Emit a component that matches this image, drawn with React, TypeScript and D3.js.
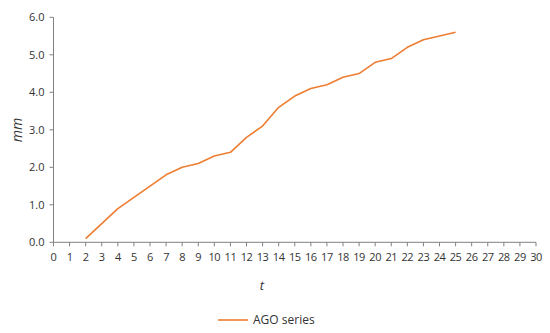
import React from "react";
import * as d3 from "d3";

const tValues = [2, 3, 4, 5, 6, 7, 8, 9, 10, 11, 12, 13, 14, 15, 16, 17, 18, 19, 20, 21, 22, 23, 24, 25];
const agoValues = [0.1, 0.5, 0.9, 1.2, 1.5, 1.8, 2.0, 2.1, 2.3, 2.4, 2.8, 3.1, 3.6, 3.9, 4.1, 4.2, 4.4, 4.5, 4.8, 4.9, 5.2, 5.4, 5.5, 5.6];
const xTicks = d3.range(0, 31, 1);
const yTicks = [0, 1, 2, 3, 4, 5, 6];
const seriesName = "AGO series";

export default function App() {
  const W = 550, H = 333;
  const x = d3.scaleLinear().domain([0, 30]).range([53.5, 536]);
  const y = d3.scaleLinear().domain([0, 6]).range([242.3, 17.3]);
  const line = d3.line<number>().x((_, i) => x(tValues[i])).y((d) => y(d));
  const font = "'Open Sans', 'Liberation Sans', Arial, sans-serif";
  const axisColor = "#808080";
  const textColor = "#333333";
  return (
    <svg width={W} height={H} style={{ position: "absolute", left: 0, top: 0, background: "#fff" }}>
      <g fontFamily={font} fontSize={11} fill={textColor}>
        {/* y axis */}
        <line x1={x(0)} x2={x(0)} y1={y(6)} y2={y(0)} stroke={axisColor} strokeWidth={1} />
        {yTicks.map((v) => (
          <g key={"y" + v}>
            <line x1={x(0) - 4} x2={x(0)} y1={y(v)} y2={y(v)} stroke={axisColor} />
            <text x={x(0) - 9} y={y(v)} dy="0.35em" textAnchor="end">{v.toFixed(1)}</text>
          </g>
        ))}
        {/* x axis */}
        <line x1={x(0)} x2={x(30)} y1={y(0)} y2={y(0)} stroke={axisColor} strokeWidth={1} />
        {xTicks.map((v) => (
          <g key={"x" + v}>
            <line x1={x(v)} x2={x(v)} y1={y(0)} y2={y(0) + 4} stroke={axisColor} />
            <text x={x(v)} y={y(0) + 19} textAnchor="middle" letterSpacing={-0.5}>{v}</text>
          </g>
        ))}
        <text x={262} y={290} textAnchor="middle" fontStyle="italic" fontSize={13}>t</text>
        <text transform={`translate(22,130) rotate(-90)`} textAnchor="middle" fontStyle="italic" fontSize={14}>mm</text>
        <path d={line(agoValues) || ""} fill="none" stroke="#ED7D31" strokeWidth={1.6} strokeLinejoin="round" />
        {/* legend */}
        <line x1={218} x2={248} y1={320} y2={320} stroke="#ED7D31" strokeWidth={1.6} />
        <text x={253} y={320} dy="0.35em" fontSize={12}>{seriesName}</text>
      </g>
    </svg>
  );
}
